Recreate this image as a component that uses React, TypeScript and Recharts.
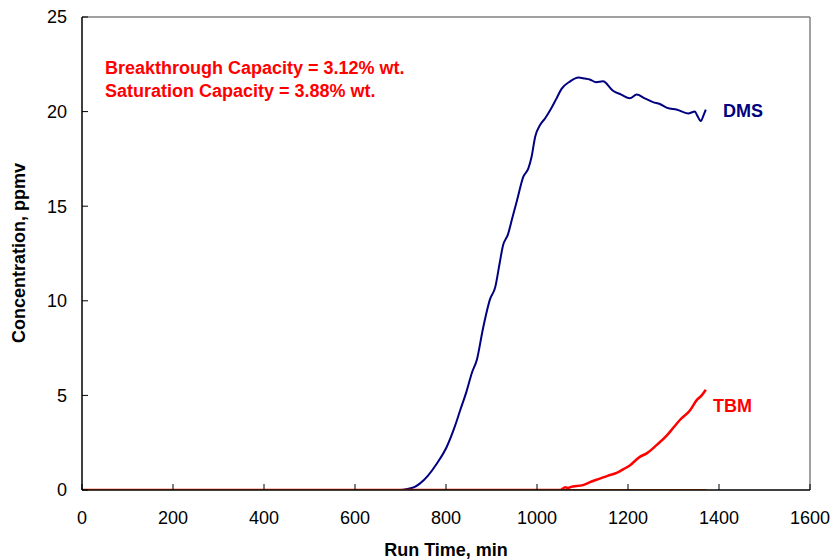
import { LineChart, Line, XAxis, YAxis, ReferenceLine } from 'recharts'

// DMS breakthrough curve (min, ppmv)
const dmsTime = [0, 700, 715, 730, 743, 760, 780, 802, 820, 831, 845, 857, 868, 881, 897, 908, 918, 925, 936, 946, 956, 970, 981, 988, 996, 1007, 1018, 1032, 1043, 1054, 1073, 1091, 1105, 1116, 1130, 1145, 1167, 1185, 1204, 1219, 1237, 1255, 1270, 1286, 1308, 1332, 1347, 1352, 1360, 1366, 1371]
const dmsConc = [0, 0, 0.05, 0.15, 0.35, 0.75, 1.4, 2.3, 3.4, 4.2, 5.2, 6.2, 6.9, 8.5, 10.1, 10.7, 12.0, 12.9, 13.5, 14.4, 15.3, 16.56, 17.0, 17.6, 18.67, 19.3, 19.65, 20.2, 20.7, 21.2, 21.6, 21.8, 21.75, 21.7, 21.55, 21.6, 21.1, 20.9, 20.7, 20.9, 20.7, 20.5, 20.4, 20.2, 20.1, 19.9, 20.0, 19.8, 19.5, 19.8, 20.1]

// TBM breakthrough curve
const tbmTime = [0, 1051, 1062, 1068, 1073, 1101, 1120, 1138, 1155, 1175, 1190, 1204, 1226, 1242, 1264, 1286, 1300, 1314, 1336, 1351, 1362, 1371]
const tbmConc = [0, 0, 0.15, 0.1, 0.15, 0.26, 0.45, 0.6, 0.75, 0.9, 1.1, 1.3, 1.75, 1.95, 2.4, 2.9, 3.3, 3.7, 4.2, 4.75, 5.0, 5.3]

// baseline trace along zero
const baseTime = [0, 1372]
const baseConc = [0, 0]

const xTicks = [0, 200, 400, 600, 800, 1000, 1200, 1400, 1600]
const yTicks = [0, 5, 10, 15, 20, 25]

const toRows = (t: number[], c: number[]) => t.map((x, i) => ({ x, y: c[i] }))

const font = 'Arial, "Liberation Sans", Helvetica, sans-serif'
const C = { navy: '#000080', red: '#FF0000', orange: '#FF6600', frame: '#808080' }

export default function App() {
  const dms = toRows(dmsTime, dmsConc)
  const tbm = toRows(tbmTime, tbmConc)
  const base = toRows(baseTime, baseConc)
  const tick = { fontSize: 18, fill: '#000', fontFamily: font }
  return (
    <div style={{ position: 'absolute', left: 0, top: 0, width: 836, height: 559, background: '#fff' }}>
      <LineChart width={836} height={559} margin={{ top: 17, right: 26, left: 0, bottom: 0 }}>
        <XAxis dataKey="x" type="number" domain={[0, 1600]} ticks={xTicks} allowDataOverflow
          height={69} tickSize={-6} tickMargin={27} tick={tick}
          axisLine={{ stroke: '#000', strokeWidth: 1.5 }} tickLine={{ stroke: '#000' }}
          label={{ value: 'Run Time, min', position: 'insideBottom', offset: 3,
            style: { fontSize: 18, fontWeight: 'bold', fill: '#000', fontFamily: font } }} />
        <YAxis dataKey="y" type="number" domain={[0, 25]} ticks={yTicks} allowDataOverflow
          width={82} tickSize={-6} tickMargin={21} tick={tick}
          axisLine={{ stroke: '#000', strokeWidth: 1.5 }} tickLine={{ stroke: '#000' }}
          label={{ content: () => (
            <text x={19} y={253} transform="rotate(-90 19 253)" textAnchor="middle" dominantBaseline="central"
              style={{ fontSize: 18, fontWeight: 'bold', fill: '#000', fontFamily: font }}>Concentration, ppmv</text>
          ) }} />
        <ReferenceLine y={25} stroke={C.frame} strokeWidth={1.5} ifOverflow="visible" />
        <ReferenceLine x={1600} stroke={C.frame} strokeWidth={1.5} ifOverflow="visible" />
        <Line data={dms} dataKey="y" type="monotone" stroke={C.navy} strokeWidth={2} dot={false} isAnimationActive={false} />
        <Line data={tbm} dataKey="y" type="monotone" stroke={C.red} strokeWidth={2.5} dot={false} isAnimationActive={false} />
        <Line data={base} dataKey="y" type="linear" stroke={C.orange} strokeWidth={2} dot={false} isAnimationActive={false} />
        <text x={105} y={74} style={{ fontSize: 18, fontWeight: 'bold', fill: C.red, fontFamily: font }}>Breakthrough Capacity = 3.12% wt.</text>
        <text x={105} y={97} style={{ fontSize: 18, fontWeight: 'bold', fill: C.red, fontFamily: font }}>Saturation Capacity = 3.88% wt.</text>
        <text x={723} y={117} style={{ fontSize: 18, fontWeight: 'bold', fill: C.navy, fontFamily: font }}>DMS</text>
        <text x={713} y={412} style={{ fontSize: 18, fontWeight: 'bold', fill: C.red, fontFamily: font }}>TBM</text>
      </LineChart>
    </div>
  )
}
